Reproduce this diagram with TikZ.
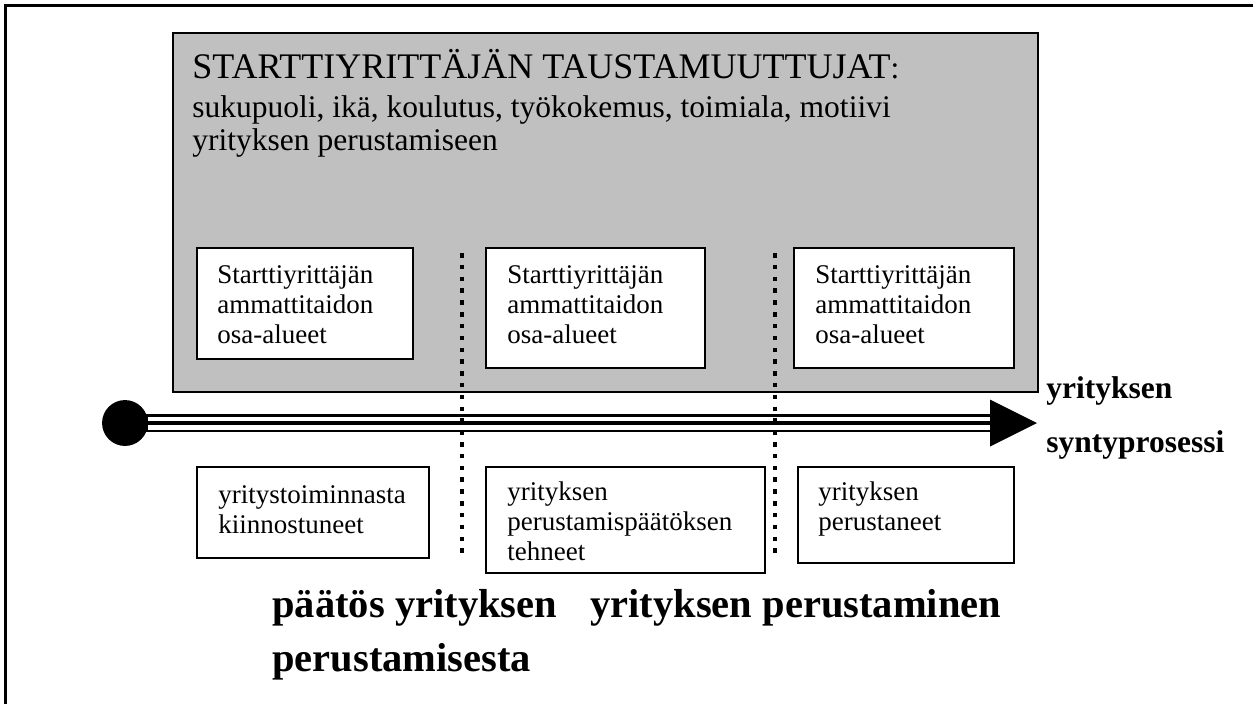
\documentclass[tikz,border=0pt]{standalone}
\usepackage{fontspec}
\setmainfont{Liberation Serif}
\usetikzlibrary{fit}
\definecolor{panelgray}{RGB}{192,192,192}
\newcommand\cardstrut{\rule{0pt}{10pt}}
\newcommand\bodystrut{\rule{0pt}{11.5pt}}
\newcommand\titlestrut{\rule{0pt}{13pt}}
\newcommand\labelstrut{\rule{0pt}{11pt}}
\newcommand\bigstrut{\rule{0pt}{14pt}}
\tikzset{
  frameline/.style={line width=0.9pt},
  panel/.style={draw=black, line width=0.8pt, fill=panelgray, inner sep=0pt},
  card/.style={draw=black, line width=0.9pt, fill=white, inner sep=0pt},
  cardtext/.style={anchor=north west, inner sep=0pt, align=left,
    font=\fontsize{12}{13.33}\selectfont},
  titletext/.style={anchor=north west, inner sep=0pt, align=left,
    font=\fontsize{16}{18}\selectfont},
  bodytext/.style={anchor=north west, inner sep=0pt, align=left,
    font=\fontsize{14}{14.67}\selectfont},
  boldlabel/.style={anchor=north west, inner sep=0pt, align=left,
    font=\fontsize{14}{24}\selectfont\bfseries},
  milestone/.style={anchor=north west, inner sep=0pt, align=left,
    font=\fontsize{18}{24}\selectfont\bfseries},
  startdot/.style={circle, fill=black, inner sep=0pt, minimum size=20.4pt},
  dotline/.style={line width=2pt, dash pattern=on 2pt off 3.25pt},
}
\begin{document}
\begin{tikzpicture}[x=0.44444pt, y=-0.44444pt]
\useasboundingbox (0,0) rectangle (1253,704);

% outer frame (only top and left edges fall inside the page)
\coordinate (fbl) at (5.5,704);
\coordinate (ftl) at (5.5,5.5);
\coordinate (ftr) at (1253,5.5);
\draw[frameline] (fbl) -- (ftl) -- (ftr);

% grey panel with background variables
\node[panel, fit={(173,33) (1038,392)}] (panel) {};
\node[titletext] (title) at (192,48.75)
  {\titlestrut STARTTIYRITTÄJÄN TAUSTAMUUTTUJAT{\fontsize{14}{14}\selectfont:}};
\node[bodytext] (vars) at (192,91.1)
  {\bodystrut sukupuoli, ikä, koulutus, työkokemus, toimiala, motiivi\\yrityksen perustamiseen};

% competence boxes inside the panel
\node[card, fit={(197,248) (413,359)}] (c1) {};
\node[card, fit={(486,248) (705,368)}] (c2) {};
\node[card, fit={(794,248) (1014,368)}] (c3) {};
\node[cardtext] (c1t) at (217,260.5) {\cardstrut Starttiyrittäjän\\ammattitaidon\\osa-alueet};
\node[cardtext] (c2t) at (507,260.5) {\cardstrut Starttiyrittäjän\\ammattitaidon\\osa-alueet};
\node[cardtext] (c3t) at (815,260.5) {\cardstrut Starttiyrittäjän\\ammattitaidon\\osa-alueet};

% process arrow
\node[startdot] (start) at (125,423) {};
\coordinate (head) at (990,423);
\draw[line width=7.56pt] (start.center) -- (head);
\draw[white, line width=5.78pt] (start.east) -- (head);
\draw[line width=2.2pt] (start.east) -- (head);
\fill (head) ++(0,-23.5) -- ++(47,23.5) -- ++(-47,23.5) -- cycle;
\node[boldlabel] (proc) at (1046,373.25) {\labelstrut yrityksen\\syntyprosessi};

% stage boxes below the arrow
\node[card, fit={(197,467) (429,558)}] (s1) {};
\node[card, fit={(486,467) (765,573)}] (s2) {};
\node[card, fit={(798,467) (1014,563)}] (s3) {};
\node[cardtext] (s1t) at (218,480.5) {\cardstrut yritystoiminnasta\\kiinnostuneet};
\node[cardtext] (s2t) at (507,477.5) {\cardstrut yrityksen\\perustamispäätöksen\\tehneet};
\node[cardtext] (s3t) at (818,477.5) {\cardstrut yrityksen\\perustaneet};

% stage boundaries
\coordinate (d1top) at (462,253);
\coordinate (d1bot) at (462,555);
\coordinate (d2top) at (775,253);
\coordinate (d2bot) at (775,558);
\draw[dotline] (d1top) -- (d1bot);
\draw[dotline] (d2top) -- (d2bot);

% milestone labels
\node[milestone] (m1) at (272,585.5) {\bigstrut päätös yrityksen\\perustamisesta};
\node[milestone] (m2) at (590,585.5) {\bigstrut yrityksen perustaminen};
\end{tikzpicture}
\end{document}
